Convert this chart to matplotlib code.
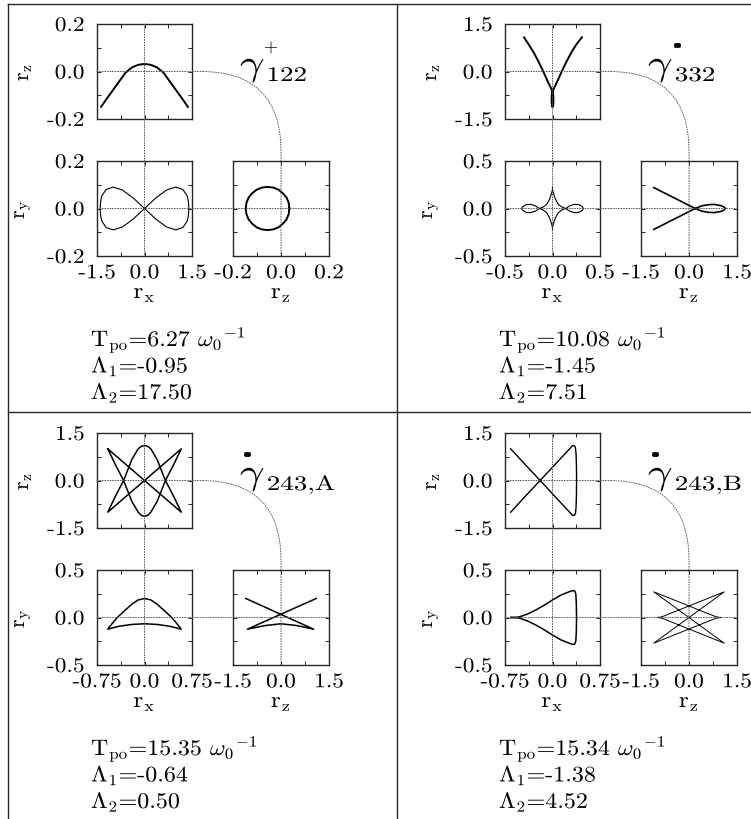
import numpy as np
import matplotlib
matplotlib.use("Agg")
import matplotlib.pyplot as plt
import matplotlib.patheffects as pe
from matplotlib.patches import ConnectionPatch
from matplotlib.lines import Line2D
from matplotlib.transforms import Affine2D

plt.rcParams['font.family'] = 'serif'
plt.rcParams['font.serif'] = ['cmr10']
plt.rcParams['mathtext.fontset'] = 'cm'
plt.rcParams['axes.unicode_minus'] = False

# ---------------- data ----------------
names = ['122', '332', '243,A', '243,B']
signs = ['+', '-', '-', '-']
T_po = [6.27, 10.08, 15.35, 15.34]
lambda1 = [-0.95, -1.45, -0.64, -1.38]
lambda2 = [17.50, 7.51, 0.50, 4.52]

# axis half-ranges: rx, rz (top), ry, rz (bottom right)
rx_lim = [1.5, 0.5, 0.75, 0.75]
rz_lim = [0.2, 1.5, 1.5, 1.5]
ry_lim = [0.2, 0.5, 0.5, 0.5]
rz2_lim = [0.2, 1.5, 1.5, 1.5]
rx_labels = [['-1.5', '0.0', '1.5'], ['-0.5', '0.0', '0.5'],
             ['-0.75', '0.0', '0.75'], ['-0.75', '0.0', '0.75']]
rz_labels = [['-0.2', '0.0', '0.2'], ['-1.5', '0.0', '1.5'],
             ['-1.5', '0.0', '1.5'], ['-1.5', '0.0', '1.5']]
ry_labels = [['-0.2', '0.0', '0.2'], ['-0.5', '0.0', '0.5'],
             ['-0.5', '0.0', '0.5'], ['-0.5', '0.0', '0.5']]
rz2_labels = [['-0.2', '0.0', '0.2'], ['-1.5', '0.0', '1.5'],
              ['-1.5', '0.0', '1.5'], ['-1.5', '0.0', '1.5']]

# gamma+_122
p1_xz_x = [-1.37, -1.2, -1.0, -0.8, -0.6, -0.4, -0.2, 0.0, 0.2, 0.4, 0.6, 0.8, 1.0, 1.2, 1.37]
p1_xz_z = [-0.149, -0.116, -0.079, -0.042, -0.005, 0.017, 0.028, 0.032, 0.028, 0.017, -0.005,
           -0.042, -0.079, -0.116, -0.149]
p1_xy_x = [0, 0.362, 0.700, 0.990, 1.212, 1.352, 1.388, 1.400, 1.388, 1.352, 1.212, 0.990, 0.700,
           0.362, 0, -0.362, -0.700, -0.990, -1.212, -1.352, -1.388, -1.400, -1.388, -1.352,
           -1.212, -0.990, -0.700, -0.362, 0]
p1_xy_y = [0, 0.045, 0.078, 0.090, 0.080, 0.052, 0.028, 0, -0.028, -0.052, -0.080, -0.090, -0.078,
           -0.045, 0, 0.045, 0.078, 0.090, 0.080, 0.052, 0.028, 0, -0.028, -0.052, -0.080,
           -0.090, -0.078, -0.045, 0]
p1_zy_z = [0.035, 0.032, 0.023, 0.008, -0.010, -0.032, -0.056, -0.080, -0.102, -0.120, -0.135,
           -0.144, -0.147, -0.144, -0.135, -0.120, -0.102, -0.080, -0.056, -0.032, -0.010,
           0.008, 0.023, 0.032, 0.035]
p1_zy_y = [0, 0.024, 0.046, 0.064, 0.079, 0.088, 0.091, 0.088, 0.079, 0.064, 0.046, 0.024, 0,
           -0.024, -0.046, -0.064, -0.079, -0.088, -0.091, -0.088, -0.079, -0.064, -0.046,
           -0.024, 0]

# gamma-_332
p2_xz_x = [-0.30, -0.25, -0.20, -0.15, -0.10, -0.06, -0.03, -0.01, 0.0, 0.008, 0.010, 0.006, 0.0,
           -0.006, -0.010, -0.008, 0.0, 0.01, 0.03, 0.06, 0.10, 0.15, 0.20, 0.25, 0.31]
p2_xz_z = [1.08, 0.85, 0.61, 0.33, 0.02, -0.25, -0.44, -0.56, -0.62, -0.75, -0.95, -1.08, -1.13,
           -1.08, -0.95, -0.75, -0.62, -0.56, -0.44, -0.25, 0.02, 0.33, 0.61, 0.85, 1.08]
p2_xy_x = [0, 0, 0.01, 0.03, 0.06, 0.10, 0.14, 0.18, 0.23, 0.28, 0.315, 0.325, 0.315, 0.28, 0.23,
           0.18, 0.14, 0.10, 0.06, 0.03, 0.01, 0, 0, 0, -0.01, -0.03, -0.06, -0.10, -0.14, -0.18,
           -0.23, -0.28, -0.315, -0.325, -0.315, -0.28, -0.23, -0.18, -0.14, -0.10, -0.06,
           -0.03, -0.01, 0, 0]
p2_xy_y = [0.222, 0.2, 0.16, 0.10, 0.045, 0.015, 0.0, -0.028, -0.044, -0.040, -0.018, 0.0, 0.018,
           0.040, 0.044, 0.028, 0.0, -0.015, -0.045, -0.10, -0.16, -0.2, -0.222, -0.2, -0.16,
           -0.10, -0.045, -0.015, 0.0, 0.028, 0.044, 0.040, 0.018, 0.0, -0.018, -0.040, -0.044,
           -0.028, 0.0, 0.015, 0.045, 0.10, 0.16, 0.2, 0.222]
p2_zy_z = [-1.10, -0.6, -0.2, 0.19, 0.4, 0.6, 0.8, 1.0, 1.1, 1.14, 1.1, 1.0, 0.8, 0.6, 0.4, 0.19,
           -0.2, -0.6, -1.10]
p2_zy_y = [0.22, 0.135, 0.067, 0.0, -0.028, -0.04, -0.043, -0.03, -0.015, 0.0, 0.015, 0.03, 0.043,
           0.04, 0.028, 0.0, -0.067, -0.135, -0.22]

# gamma-_243,A
p3_xz_x = [-0.58, -0.29, 0.0, 0.29, 0.58, 0.46, 0.33, 0.2, 0.1, 0.05, 0.0, -0.05, -0.1, -0.2, -0.33,
           -0.46, -0.58, -0.29, 0.0, 0.29, 0.58, 0.46, 0.33, 0.2, 0.1, 0.05, 0.0, -0.05, -0.1,
           -0.2, -0.33, -0.46, -0.58]
p3_xz_z = [1.0, 0.5, 0.0, -0.5, -1.0, -0.5, 0.0, 0.66, 1.0, 1.08, 1.1, 1.08, 1.0, 0.66, 0.0, -0.5,
           -1.0, -0.5, 0.0, 0.5, 1.0, 0.5, 0.0, -0.66, -1.0, -1.1, -1.13, -1.1, -1.0, -0.66, 0.0,
           0.5, 1.0]
p3_xy_x = [0, 0.1, 0.2, 0.3, 0.43, 0.5, 0.58, 0.4, 0.2, 0, -0.2, -0.4, -0.58, -0.5, -0.43, -0.3,
           -0.2, -0.1, 0]
p3_xy_y = [0.2, 0.185, 0.14, 0.08, 0.0, -0.055, -0.123, -0.092, -0.073, -0.066, -0.073, -0.092,
           -0.123, -0.055, 0.0, 0.08, 0.14, 0.185, 0.2]
p3_zy_z = [-1.1, -0.5, 0.0, 0.5, 1.02, 0.5, 0.0, -0.5, -1.05, -0.5, 0.0, 0.5, 1.1]
p3_zy_y = [0.2, 0.109, 0.032, -0.044, -0.123, -0.085, -0.066, -0.085, -0.123, -0.040, 0.035,
           0.110, 0.2]

# gamma-_243,B
p4_xz_x = [-0.66, -0.43, -0.195, 0.06, 0.27, 0.316, 0.345, 0.362, 0.372, 0.378, 0.38, 0.378,
           0.372, 0.362, 0.345, 0.316, 0.27, 0.06, -0.195, -0.43, -0.66]
p4_xz_z = [1.0, 0.5, 0.0, -0.55, -1.0, -1.1, -1.1, -1.04, -0.85, -0.45, 0.0, 0.45, 0.85, 1.04,
           1.1, 1.1, 1.0, 0.55, 0.0, -0.5, -1.0]
p4_xy_x = [-0.66, -0.53, -0.4, -0.26, -0.13, 0.0, 0.13, 0.26, 0.32, 0.35, 0.368, 0.376, 0.38,
           0.376, 0.368, 0.35, 0.32, 0.26, 0.13, 0.0, -0.13, -0.26, -0.4, -0.53, -0.66]
p4_xy_y = [0.0, -0.005, -0.035, -0.08, -0.13, -0.184, -0.235, -0.27, -0.283, -0.28, -0.25, -0.15,
           0.0, 0.15, 0.25, 0.28, 0.283, 0.27, 0.235, 0.184, 0.13, 0.08, 0.035, 0.005, 0.0]
p4_zy_z = [1.0, 0.88, 0.75, -1.1, 1.1, -0.75, -0.88, -1.0, -0.88, -0.75, 1.1, -1.1, 0.75, 0.88, 1.0]
p4_zy_y = [0.0, -0.005, -0.02, -0.27, 0.27, 0.02, 0.005, 0.0, -0.005, -0.02, -0.27, 0.27, 0.02,
           0.005, 0.0]

curves = [
    ((p1_xz_x, p1_xz_z), (p1_xy_x, p1_xy_y), (p1_zy_z, p1_zy_y)),
    ((p2_xz_x, p2_xz_z), (p2_xy_x, p2_xy_y), (p2_zy_z, p2_zy_y)),
    ((p3_xz_x, p3_xz_z), (p3_xy_x, p3_xy_y), (p3_zy_z, p3_zy_y)),
    ((p4_xz_x, p4_xz_z), (p4_xy_x, p4_xy_y), (p4_zy_z, p4_zy_y)),
]
line_widths = [(1.4, 0.8, 1.4), (1.4, 0.8, 1.2), (1.1, 1.1, 1.1), (1.0, 1.1, 0.7)]
sign_x = [270, 269, 247, 247]   # position of the +/- mark, relative to the panel


class Stretch(pe.AbstractPathEffect):
    """Draw text widened horizontally, keeping one edge (or the centre) fixed."""

    def __init__(self, sx, anchor='center'):
        super().__init__()
        self.sx = sx
        self.anchor = anchor

    def draw_path(self, renderer, gc, tpath, affine, rgbFace=None):
        ext = tpath.get_extents()
        x0 = {'left': ext.x0, 'right': ext.x1}.get(self.anchor, 0.5 * (ext.x0 + ext.x1))
        t = Affine2D().translate(-x0, 0).scale(self.sx, 1).translate(x0, 0) + affine
        renderer.draw_path(gc, tpath, t, rgbFace)


# ---------------- layout ----------------
W, H = 751, 820
fig = plt.figure(figsize=(W / 100, H / 100), dpi=100)


def add_ax(x0, y0, x1, y1):
    return fig.add_axes([x0 / W, 1 - y1 / H, (x1 - x0) / W, (y1 - y0) / H])


def style(ax, xl, yl, xlabels, ylabels):
    ax.set_xlim(-xl, xl)
    ax.set_ylim(-yl, yl)
    ax.set_xticks([-xl, 0, xl])
    ax.set_yticks([-yl, 0, yl])
    ax.set_xticks([-xl / 2, xl / 2], minor=True)
    ax.set_yticks([-yl / 2, yl / 2], minor=True)
    ax.set_xticklabels(xlabels if xlabels else [])
    ax.set_yticklabels(ylabels if ylabels else [])
    ax.tick_params(which='both', direction='in', top=True, right=True,
                   length=3, width=0.6, labelsize=15)
    ax.tick_params(axis='x', pad=6)
    ax.tick_params(axis='y', pad=9)
    for lab in ax.get_xticklabels():
        lab.set_path_effects([Stretch(1.12, 'center')])
    for lab in ax.get_yticklabels():
        lab.set_path_effects([Stretch(1.12, 'right')])
    for s in ax.spines.values():
        s.set_linewidth(1.0)
        s.set_color('0.15')


dot = dict(color='0.35', lw=0.7, linestyle=':')

for i in range(4):
    dx = 408 * (i % 2)
    dy = 409 * (i // 2)
    ax_tl = add_ax(97 + dx, 25 + dy, 192 + dx, 120 + dy)
    ax_bl = add_ax(97 + dx, 162 + dy, 192 + dx, 257 + dy)
    ax_br = add_ax(233 + dx, 162 + dy, 329 + dx, 257 + dy)

    style(ax_tl, rx_lim[i], rz_lim[i], None, rz_labels[i])
    style(ax_bl, rx_lim[i], ry_lim[i], rx_labels[i], ry_labels[i])
    style(ax_br, rz2_lim[i], ry_lim[i], rz2_labels[i], None)

    for ax, (cx, cy), lw in zip((ax_tl, ax_bl, ax_br), curves[i], line_widths[i]):
        ax.plot(cx, cy, color='black', lw=lw, solid_joinstyle='round')

    ax_tl.set_ylabel(r'$\mathrm{r_z}$', fontsize=16)
    ax_bl.set_ylabel(r'$\mathrm{r_y}$', fontsize=16)
    ax_bl.set_xlabel(r'$\mathrm{r_x}$', fontsize=16)
    ax_br.set_xlabel(r'$\mathrm{r_z}$', fontsize=16)
    ax_tl.yaxis.set_label_coords(-0.65, 0.5)
    ax_bl.yaxis.set_label_coords(-0.65, 0.5)
    ax_bl.xaxis.set_label_coords(0.5, -0.30)
    ax_br.xaxis.set_label_coords(0.5, -0.30)
    ax_bl.xaxis.label.set_path_effects([Stretch(1.15, 'center')])
    ax_br.xaxis.label.set_path_effects([Stretch(1.15, 'center')])

    # dotted guide lines
    fig.add_artist(ConnectionPatch((0, rz_lim[i]), (0, -ry_lim[i]), 'data', 'data',
                                   axesA=ax_tl, axesB=ax_bl, **dot))
    fig.add_artist(ConnectionPatch((-rx_lim[i], 0), (rz2_lim[i], 0), 'data', 'data',
                                   axesA=ax_bl, axesB=ax_br, **dot))
    fig.add_artist(ConnectionPatch((-rx_lim[i], 0), (0, -ry_lim[i]), 'data', 'data',
                                   axesA=ax_tl, axesB=ax_br,
                                   connectionstyle='angle,angleA=0,angleB=90,rad=80', **dot))

    # orbit name
    fig.text((240 + dx) / W, 1 - (76 + dy) / H, r'$\gamma$', fontsize=26, va='baseline',
             path_effects=[Stretch(1.2, 'left')])
    fig.text((267 + dx) / W, 1 - (82 + dy) / H, names[i], fontsize=15, va='baseline',
             path_effects=[Stretch(1.3, 'left')])
    if signs[i] == '+':
        fig.text((sign_x[i] + dx) / W, 1 - (48 + dy) / H, '+', fontsize=13,
                 ha='center', va='center')
    else:
        fig.text((sign_x[i] + dx) / W, 1 - (46 + dy) / H, '-', fontsize=10, fontweight='bold',
                 family='DejaVu Sans', ha='center', va='center',
                 path_effects=[pe.withStroke(linewidth=2, foreground='black')])

    # orbit properties
    props = [r'T$_{\mathrm{po}}$=%.2f $\omega_0{}^{-1}$' % T_po[i],
             r'$\Lambda_1$=%.2f' % lambda1[i],
             r'$\Lambda_2$=%.2f' % lambda2[i]]
    for k, s in enumerate(props):
        fig.text((91 + dx) / W, 1 - (347 + 26.5 * k + dy) / H, s, fontsize=16, va='baseline',
                 path_effects=[Stretch(1.08, 'left')])

# panel frame
frame = [((8, 8), (5, H)), ((8, W), (5, 5)), ((397, 397), (5, H)), ((8, W), (413, 413))]
for xs, ys in frame:
    fig.add_artist(Line2D([x / W for x in xs], [1 - y / H for y in ys],
                          transform=fig.transFigure, color='0.15', lw=1.0))

fig.savefig('out.png', dpi=100)
